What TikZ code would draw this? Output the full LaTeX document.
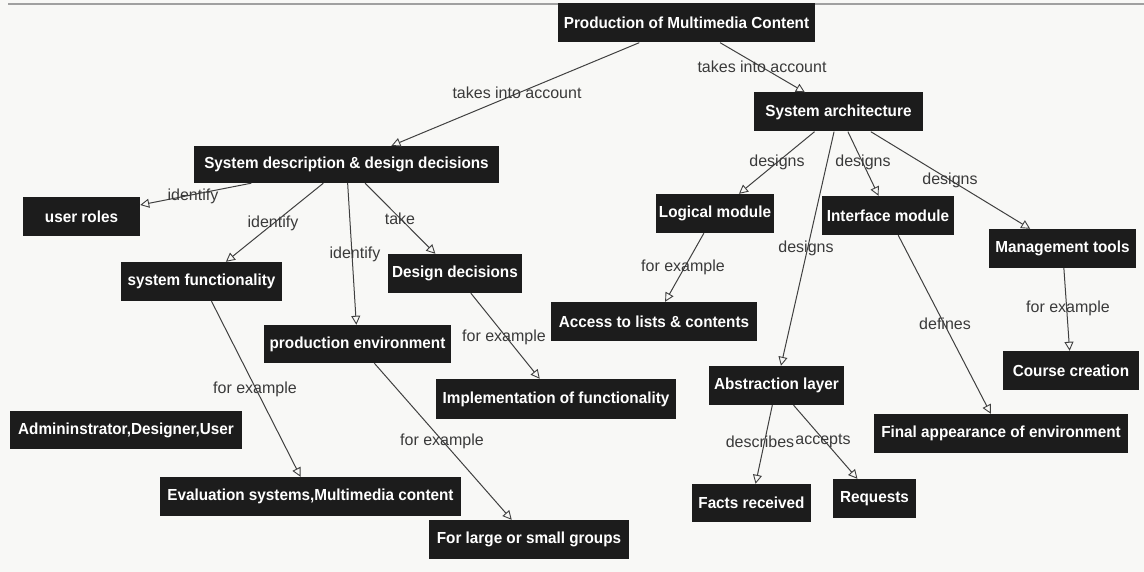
\documentclass[tikz,border=0pt]{standalone}
\usepackage{fontspec}
\setmainfont{Liberation Sans}
\newfontfamily\conceptfont[FakeStretch=0.955]{Liberation Sans Bold}
\usetikzlibrary{arrows.meta}
\definecolor{boxfill}{HTML}{1C1C1C}
\definecolor{linkgray}{HTML}{404040}
\definecolor{labelgray}{HTML}{3A3A3A}
\definecolor{paper}{HTML}{F8F8F6}
\definecolor{rulegray}{HTML}{A0A0A0}
\begin{document}
\begin{tikzpicture}[x=1pt,y=-1pt,
  concept/.style={fill=boxfill, text=white, inner sep=0pt, minimum height=39pt,
    font=\conceptfont\fontsize{16}{19}\selectfont},
  link/.style={draw=linkgray, line width=1pt,
    -{Triangle[open,length=9pt,width=9pt,line width=0.9pt]}},
  linklabel/.style={text=labelgray, inner sep=0pt, font=\fontsize{16}{19}\selectfont}]
% page
\fill[paper] (0,0) rectangle (1144,572);
\useasboundingbox (0,0) rectangle (1144,572);
\draw[rulegray, line width=2pt] (8,4) -- (1144,4);

% concepts
\node[concept, minimum width=257pt] (prod)    at (686.5,23)   {Production of Multimedia Content};
\node[concept, minimum width=169pt] (arch)    at (838.5,112)  {System architecture};
\node[concept, minimum width=305pt, minimum height=37pt] (sysdesc) at (346.5,164.5) {System description \& design decisions};
\node[concept, minimum width=117pt] (roles)   at (81.5,216.5) {user roles};
\node[concept, minimum width=161pt] (sysfunc) at (201.5,281.5) {system functionality};
\node[concept, minimum width=187pt, minimum height=38pt] (prodenv) at (357.5,344) {production environment};
\node[concept, minimum width=134pt] (desdec)  at (455,273.5)  {Design decisions};
\node[concept, minimum width=118pt] (logic)   at (715,213.5)  {Logical module};
\node[concept, minimum width=206pt] (access)  at (654,321.5)  {Access to lists \& contents};
\node[concept, minimum width=132pt] (iface)   at (888,215.5)  {Interface module};
\node[concept, minimum width=147pt] (mgmt)    at (1062.5,248.5) {Management tools};
\node[concept, minimum width=136pt] (course)  at (1071,370.5) {Course creation};
\node[concept, minimum width=135pt] (abstr)   at (776.5,385.5) {Abstraction layer};
\node[concept, minimum width=254pt] (final)   at (1001,433.5) {Final appearance of environment};
\node[concept, minimum width=119pt, minimum height=38pt] (facts) at (751.5,503) {Facts received};
\node[concept, minimum width=83pt]  (requests) at (874.5,498.5) {Requests};
\node[concept, minimum width=240pt, minimum height=40pt] (impl) at (556,399) {Implementation of functionality};
\node[concept, minimum width=232pt, minimum height=38pt] (admin) at (126,430) {Admininstrator,Designer,User};
\node[concept, minimum width=301pt] (eval)    at (310.5,496.5) {Evaluation systems,Multimedia content};
\node[concept, minimum width=200pt] (groups)  at (529,539.5)  {For large or small groups};

% links
\draw[link] (prod) -- (sysdesc);
\draw[link] (prod) -- (arch);
\draw[link] (sysdesc) -- (roles);
\draw[link] (sysdesc) -- (sysfunc);
\draw[link] (sysdesc) -- (prodenv);
\draw[link] (sysdesc) -- (desdec);
\draw[link] (sysfunc) -- (eval);
\draw[link] (prodenv) -- (groups);
\draw[link] (desdec) -- (impl);
\draw[link] (arch) -- (logic);
\draw[link] (arch) -- (iface);
\draw[link] (arch) -- (mgmt);
\draw[link] (arch) -- (abstr);
\draw[link] (logic) -- (access);
\draw[link] (iface) -- (final);
\draw[link] (mgmt) -- (course);
\draw[link] (abstr) -- (facts);
\draw[link] (abstr) -- (requests);

% link labels
\node[linklabel] (lb1)  at (517,93)   {takes into account};
\node[linklabel] (lb2)  at (762,67)   {takes into account};
\node[linklabel] (lb3)  at (193,196)  {identify};
\node[linklabel] (lb4)  at (273,223)  {identify};
\node[linklabel] (lb5)  at (355,254)  {identify};
\node[linklabel] (lb6)  at (400,219)  {take};
\node[linklabel] (lb7)  at (255,389)  {for example};
\node[linklabel] (lb8)  at (442,441)  {for example};
\node[linklabel] (lb9)  at (504,337)  {for example};
\node[linklabel] (lb10) at (777,162)  {designs};
\node[linklabel] (lb11) at (863,162)  {designs};
\node[linklabel] (lb12) at (950,180)  {designs};
\node[linklabel] (lb13) at (806,248)  {designs};
\node[linklabel] (lb14) at (683,267)  {for example};
\node[linklabel] (lb15) at (945,324)  {defines};
\node[linklabel] (lb16) at (1068,308) {for example};
\node[linklabel] (lb17) at (760,442)  {describes};
\node[linklabel] (lb18) at (823,441)  {accepts};
\end{tikzpicture}
\end{document}
